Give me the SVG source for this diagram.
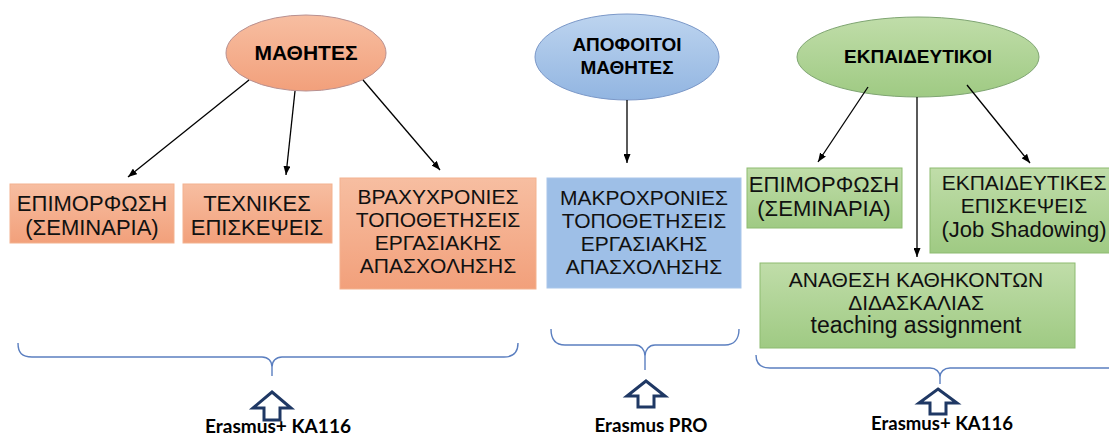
<svg xmlns="http://www.w3.org/2000/svg" width="1109" height="437" viewBox="0 0 1109 437">
<defs>
  <linearGradient id="gOr" x1="0" y1="0" x2="0" y2="1">
    <stop offset="0" stop-color="#f7bea1"/><stop offset="1" stop-color="#f2a07b"/>
  </linearGradient>
  <linearGradient id="gBl" x1="0" y1="0" x2="0" y2="1">
    <stop offset="0" stop-color="#bdd4ef"/><stop offset="1" stop-color="#92b5e1"/>
  </linearGradient>
  <linearGradient id="gGr" x1="0" y1="0" x2="0" y2="1">
    <stop offset="0" stop-color="#c0dda9"/><stop offset="1" stop-color="#9fca83"/>
  </linearGradient>
  <marker id="ah" viewBox="0 0 9 7" refX="9" refY="3.5" markerWidth="9" markerHeight="7" markerUnits="userSpaceOnUse" orient="auto">
    <path d="M0,0 L9,3.5 L0,7 z" fill="#000"/>
  </marker>
</defs>
<style>
  text { font-family: "Liberation Sans", Arial, sans-serif; fill: #111; text-anchor: middle; }
  .t { font-size: 21px; }
  .t2 { font-size: 22px; }
  .h { font-size: 19px; font-weight: bold; fill: #000; }
  .orE { fill: url(#gOr); stroke: #b89090; stroke-width: 1; }
  .blE { fill: url(#gBl); stroke: #7b98c8; stroke-width: 1; }
  .grE { fill: url(#gGr); stroke: #7fa572; stroke-width: 1; }
  .orB { fill: url(#gOr); stroke: #f3b28f; stroke-width: 1; }
  .blB { fill: #9ebfe7; stroke: #a9c6ea; stroke-width: 1; }
  .grB { fill: url(#gGr); stroke: #8dbb70; stroke-width: 1; }
  .conn line { stroke: #000; stroke-width: 1.3; marker-end: url(#ah); }
  .brace { fill: none; stroke: #5b7fc0; stroke-width: 1.4; }
  .up { fill: #fff; stroke: #1f3864; stroke-width: 3; }
  .lbl { font-family: Lato, "Liberation Sans", sans-serif; font-weight: bold; font-size: 18px; fill: #000; }
</style>
<rect width="1109" height="437" fill="#fff"/>

<g id="n-mathites">
  <ellipse class="orE" cx="306" cy="53" rx="80" ry="38"/>
  <text class="h" x="306" y="60" style="font-size:21px">ΜΑΘΗΤΕΣ</text>
</g>
<g id="n-apofoitoi">
  <ellipse class="blE" cx="627" cy="57" rx="92" ry="43"/>
  <text class="h" x="627" y="51">ΑΠΟΦΟΙΤΟΙ</text>
  <text class="h" x="627" y="74">ΜΑΘΗΤΕΣ</text>
</g>
<g id="n-ekpaideutikoi">
  <ellipse class="grE" cx="918" cy="57" rx="121" ry="40"/>
  <text class="h" x="918" y="63">ΕΚΠΑΙΔΕΥΤΙΚΟΙ</text>
</g>

<g id="n-epimorfosi1">
  <rect class="orB" x="10" y="184" width="164" height="59"/>
  <text class="t2" x="92" y="211">ΕΠΙΜΟΡΦΩΣΗ</text>
  <text class="t2" x="92" y="235">(ΣΕΜΙΝΑΡΙΑ)</text>
</g>
<g id="n-texnikes">
  <rect class="orB" x="183" y="184" width="149" height="59"/>
  <text class="t2" x="257" y="211">ΤΕΧΝΙΚΕΣ</text>
  <text class="t2" x="257" y="235">ΕΠΙΣΚΕΨΕΙΣ</text>
</g>
<g id="n-vraxyxronies">
  <rect class="orB" x="340" y="178" width="196" height="111"/>
  <text class="t" x="438" y="204">ΒΡΑΧΥΧΡΟΝΙΕΣ</text>
  <text class="t" x="438" y="227">ΤΟΠΟΘΕΤΗΣΕΙΣ</text>
  <text class="t" x="438" y="250">ΕΡΓΑΣΙΑΚΗΣ</text>
  <text class="t" x="438" y="273">ΑΠΑΣΧΟΛΗΣΗΣ</text>
</g>
<g id="n-makroxronies">
  <rect class="blB" x="547" y="178" width="194" height="110"/>
  <text class="t" x="644" y="205">ΜΑΚΡΟΧΡΟΝΙΕΣ</text>
  <text class="t" x="644" y="228">ΤΟΠΟΘΕΤΗΣΕΙΣ</text>
  <text class="t" x="644" y="251">ΕΡΓΑΣΙΑΚΗΣ</text>
  <text class="t" x="644" y="274">ΑΠΑΣΧΟΛΗΣΗΣ</text>
</g>
<g id="n-epimorfosi2">
  <rect class="grB" x="747" y="168" width="155" height="60"/>
  <text class="t2" x="824" y="192">ΕΠΙΜΟΡΦΩΣΗ</text>
  <text class="t2" x="824" y="216">(ΣΕΜΙΝΑΡΙΑ)</text>
</g>
<g id="n-ekpaideutikes">
  <rect class="grB" x="930" y="168" width="200" height="85"/>
  <text class="t" x="1024" y="190">ΕΚΠΑΙΔΕΥΤΙΚΕΣ</text>
  <text class="t" x="1024" y="213">ΕΠΙΣΚΕΨΕΙΣ</text>
  <text class="t2" x="1024" y="237">(Job Shadowing)</text>
</g>
<g id="n-anathesi">
  <rect class="grB" x="760" y="263" width="315" height="85"/>
  <text class="t" x="916" y="287">ΑΝΑΘΕΣΗ ΚΑΘΗΚΟΝΤΩΝ</text>
  <text class="t" x="916" y="310">ΔΙΔΑΣΚΑΛΙΑΣ</text>
  <text class="t2" x="916" y="333" style="font-size:23px">teaching assignment</text>
</g>

<g id="connectors" class="conn">
  <line x1="249" y1="80" x2="128" y2="177"/>
  <line x1="295" y1="91" x2="286" y2="175"/>
  <line x1="363" y1="80" x2="440" y2="170"/>
  <line x1="627" y1="100" x2="627" y2="163"/>
  <line x1="868" y1="87" x2="818" y2="162"/>
  <line x1="917" y1="97" x2="917" y2="257"/>
  <line x1="967" y1="85" x2="1030" y2="163"/>
</g>

<g id="brace-left">
  <path class="brace" d="M18,343 C18,353 22,357 32,357 L262,357 C268,357 272,361 272,367 L272,376 M272,367 C272,361 276,357 282,357 L504,357 C513,357 518,353 518,343"/>
  <polygon class="up" points="272,392 291,408 280,408 280,420 264,420 264,408 253,408"/>
  <text class="lbl" x="278" y="433" textLength="146" lengthAdjust="spacingAndGlyphs">Erasmus+ KA116</text>
</g>
<g id="brace-mid">
  <path class="brace" d="M551,329 C551,339 555,345 565,345 L635,345 C641,345 645,350 645,356 L645,370 M645,356 C645,350 649,345 655,345 L725,345 C734,345 739,339 739,329"/>
  <polygon class="up" points="646,381 665,396 654,396 654,407 638,407 638,396 627,396"/>
  <text class="lbl" x="651" y="432" textLength="113" lengthAdjust="spacingAndGlyphs">Erasmus PRO</text>
</g>
<g id="brace-right">
  <path class="brace" d="M756,355 C756,363 760,368 770,368 L930,368 C936,368 940,372 940,377 L940,384 M940,377 C940,372 944,368 950,368 L1110,368 C1118,368 1122,363 1124,355"/>
  <polygon class="up" points="938,389 957,403 946,403 946,414 930,414 930,403 919,403"/>
  <text class="lbl" x="942" y="430" textLength="142" lengthAdjust="spacingAndGlyphs">Erasmus+ KA116</text>
</g>
</svg>
